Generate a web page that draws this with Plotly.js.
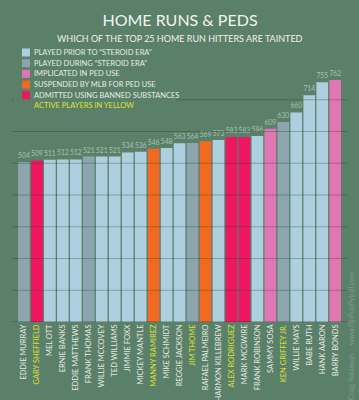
<!DOCTYPE html>
<html>
<head>
<meta charset="utf-8">
<script src="https://cdn.plot.ly/plotly-3.0.1.min.js"></script>
<style>
html,body{margin:0;padding:0;background:#5b8069;}
#chart{width:359px;height:400px;}
</style>
</head>
<body>
<div id="chart"></div>
<script>
// ---- data ----
var players = ["EDDIE MURRAY","GARY SHEFFIELD","MEL OTT","ERNIE BANKS","EDDIE MATTHEWS","FRANK THOMAS","WILLIE MCCOVEY","TED WILLIAMS","JIMMIE FOXX","MICKEY MANTLE","MANNY RAMIREZ","MIKE SCHMIDT","REGGIE JACKSON","JIM THOME","RAFAEL PALMEIRO","HARMON KILLEBREW","ALEX RODRIGUEZ","MARK MCGWIRE","FRANK ROBINSON","SAMMY SOSA","KEN GRIFFEY JR.","WILLIE MAYS","BABE RUTH","HANK AARON","BARRY BONDS"];
var homeRuns = [504,509,511,512,512,521,521,521,534,536,546,548,563,564,569,573,583,583,586,609,630,660,714,755,762];
var playerStatus = ["during","admitted","prior","prior","prior","during","prior","prior","prior","prior","suspended","prior","prior","during","suspended","prior","admitted","admitted","prior","implicated","during","prior","prior","prior","implicated"];
var activePlayer = [false,true,false,false,false,false,false,false,false,false,true,false,false,true,false,false,true,false,false,false,true,false,false,false,false];
var legendKeys = ["prior","during","implicated","suspended","admitted"];
var legendLabels = ["PLAYED PRIOR TO \u201cSTEROID ERA\u201d","PLAYED DURING \u201cSTEROID ERA\u201d","IMPLICATED IN PED USE","SUSPENDED BY MLB FOR PED USE","ADMITTED USING BANNED SUBSTANCES"];
var gridValues = [0,100,200,300,400,500,600,700];

// ---- styles ----
var BG = "#5b8069";
var colors = {prior:"#aecfdf", during:"#8ca5ae", implicated:"#e077b3", suspended:"#f26a21", admitted:"#ee1660"};
var YELLOW = "#dfe22e";
var LABEL = "#e6ebe4";
var FONT = "Lato, 'Open Sans', sans-serif";

// plot area in pixels
var L = 12, R = 347, T = 68, B = 322;
function px(x){ return (x - L) / (R - L); }
function py(y){ return (B - y) / (B - T); }

var idx = players.map(function(_, i){ return i; });

var trace = {
  type: "bar",
  x: idx,
  y: homeRuns,
  marker: {color: playerStatus.map(function(s){ return colors[s]; }), line: {width: 0}},
  text: homeRuns.map(String),
  textposition: "outside",
  textfont: {family: FONT, size: 7, color: "#a9c0b2"},
  cliponaxis: false,
  hoverinfo: "x+y",
  showlegend: false
};

var shapes = [];
gridValues.forEach(function(v){
  shapes.push({type:"line", xref:"paper", yref:"y", x0:0, x1:1, y0:v, y1:v,
    line:{color: v === 0 ? "rgba(35,55,45,0.55)" : "rgba(35,60,45,0.32)", width:1}, layer:"above"});
});
// legend background covering gridline
shapes.push({type:"rect", xref:"paper", yref:"paper", x0:px(14), x1:px(176), y0:py(46), y1:py(113),
  fillcolor: BG, line:{width:0}, layer:"above"});

var annotations = [];
var rowY0 = 52.5, rowStep = 10.7;
legendKeys.forEach(function(k, i){
  var cy = rowY0 + i * rowStep;
  shapes.push({type:"rect", xref:"paper", yref:"paper", x0:px(22), x1:px(30), y0:py(cy-4), y1:py(cy+4),
    fillcolor: colors[k], line:{width:0}, layer:"above"});
  annotations.push({xref:"paper", yref:"paper", x:px(32), y:py(cy), xanchor:"left", yanchor:"middle",
    text: legendLabels[i], showarrow:false, font:{family:FONT, size:7.5, color:LABEL}});
});
annotations.push({xref:"paper", yref:"paper", x:px(32), y:py(rowY0 + 5*rowStep), xanchor:"left", yanchor:"middle",
  text:"ACTIVE PLAYERS IN YELLOW", showarrow:false, font:{family:FONT, size:7.5, color:YELLOW}});
// watermark
annotations.push({xref:"paper", yref:"paper", x:px(351), y:py(336), xanchor:"center", yanchor:"middle",
  text:"Craig Robinson &nbsp;&nbsp;&nbsp; www.flipflopflyball.com", textangle:-90, showarrow:false,
  font:{family:FONT, size:7, color:"#7d9e8a"}});
// subtitle
annotations.push({xref:"paper", yref:"paper", x:px(180), y:py(38), xanchor:"center", yanchor:"middle",
  text:"WHICH OF THE TOP 25 HOME RUN HITTERS ARE TAINTED", showarrow:false,
  font:{family:FONT, size:9, color:"#eef0ea"}});

var layout = {
  width: 359, height: 400,
  paper_bgcolor: BG, plot_bgcolor: BG,
  margin: {l: L, r: 359 - R, t: T, b: 400 - B, pad: 0},
  title: {text: "HOME RUNS &amp; PEDS", x: 180/359, xanchor: "center", y: 1 - 20/400, yanchor: "middle",
    font: {family: FONT, size: 16, color: "#f2f4ee"}},
  bargap: 0.1,
  xaxis: {
    range: [-0.92, 24.91], fixedrange: true,
    tickmode: "array", tickvals: idx,
    ticktext: players.map(function(p, i){ return activePlayer[i] ? '<span style="color:' + YELLOW + '">' + p + '</span>' : p; }),
    tickangle: -90, ticks: "", ticklen: 0, showgrid: false, zeroline: false, showline: false,
    tickfont: {family: FONT, size: 7.5, color: LABEL}
  },
  yaxis: {range: [0, 800], showgrid: false, zeroline: false, showticklabels: false, ticks: "", fixedrange: true},
  shapes: shapes,
  annotations: annotations,
  showlegend: false,
  font: {family: FONT}
};

Plotly.newPlot("chart", [trace], layout, {displayModeBar: false, staticPlot: true});
</script>
</body>
</html>
